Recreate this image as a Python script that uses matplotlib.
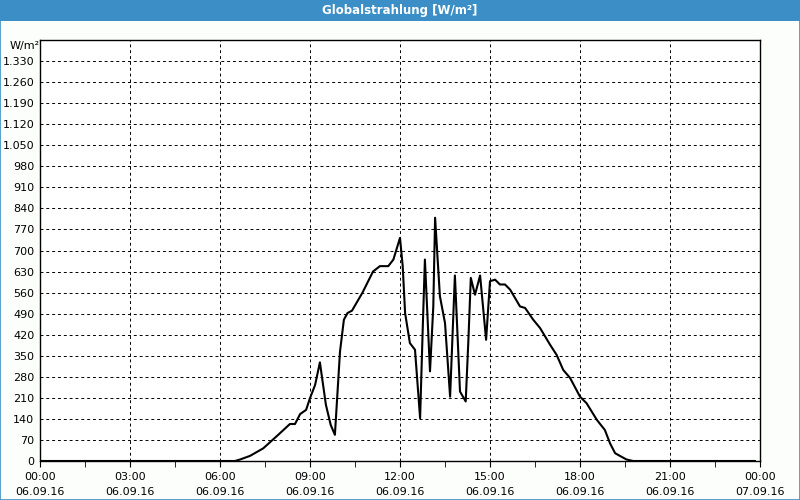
import matplotlib
matplotlib.use("Agg")
import matplotlib.pyplot as plt
from matplotlib.patches import Rectangle

# hours since 06.09.16 00:00 and global radiation in W/m²
hours = [0.0, 6.5, 6.67, 7.0, 7.44, 7.94, 8.33, 8.5, 8.67, 8.87, 9.0, 9.17, 9.33,
         9.53, 9.69, 9.83, 10.0, 10.13, 10.25, 10.4, 10.75, 11.1, 11.33, 11.61,
         11.78, 12.0, 12.09, 12.17, 12.33, 12.5, 12.67, 12.76, 12.83, 13.0, 13.11,
         13.17, 13.33, 13.5, 13.67, 13.83, 14.0, 14.19, 14.28, 14.36, 14.5, 14.67,
         14.87, 15.0, 15.17, 15.33, 15.5, 15.67, 16.0, 16.17, 16.44, 16.67, 17.0,
         17.22, 17.44, 17.67, 18.0, 18.22, 18.56, 18.83, 19.0, 19.17, 19.33, 19.55,
         19.77, 23.83]
radiation = [0, 0, 5, 17, 42, 87, 123, 123, 156, 170, 209, 253, 328,
             187, 120, 87, 364, 470, 492, 500, 560, 630, 648, 648,
             670, 742, 648, 492, 392, 370, 142, 448, 670, 298, 514,
             809, 548, 459, 214, 617, 231, 198, 403, 609, 553, 617,
             403, 598, 603, 587, 587, 570, 514, 509, 470, 442, 387,
             353, 303, 276, 214, 192, 137, 103, 59, 26, 17, 5,
             0, 0]

x_ticks = [0, 3, 6, 9, 12, 15, 18, 21, 24]
x_labels = ["00:00\n06.09.16", "03:00\n06.09.16", "06:00\n06.09.16",
            "09:00\n06.09.16", "12:00\n06.09.16", "15:00\n06.09.16",
            "18:00\n06.09.16", "21:00\n06.09.16", "00:00\n07.09.16"]
y_ticks = list(range(0, 1400, 70))

BLUE = "#3c8fc6"

fig = plt.figure(figsize=(8, 5), dpi=100)
fig.patch.set_facecolor("#fbfefb")

# title bar and thin frame around the whole picture
fig.add_artist(Rectangle((0, 0.958), 1, 0.042, transform=fig.transFigure,
                         facecolor=BLUE, edgecolor="none"))
fig.add_artist(Rectangle((0.0006, 0.001), 0.9988, 0.998, transform=fig.transFigure,
                         facecolor="none", edgecolor=BLUE, linewidth=1.2))
fig.text(0.5, 0.979, "Globalstrahlung [W/m²]", color="white", fontsize=8.5,
         fontweight="bold", ha="center", va="center")

ax = fig.add_axes([0.05, 0.078, 0.90, 0.842])
ax.set_facecolor("white")
ax.plot(hours, radiation, color="black", linewidth=1.5)

ax.set_xlim(0, 24)
ax.set_ylim(0, 1400)
ax.set_xticks(x_ticks)
ax.set_xticklabels(x_labels, fontsize=8, linespacing=1.55)
ax.set_xticks([h + 1.5 for h in x_ticks[:-1]], minor=True)
ax.set_yticks(y_ticks)
ax.set_yticklabels([f"{v:,}".replace(",", ".") for v in y_ticks], fontsize=8)

ax.tick_params(axis="x", which="both", direction="out", length=4, pad=4)
ax.tick_params(axis="y", length=0, pad=4)
ax.grid(True, which="major", color="black", linestyle=(0, (3, 3)), linewidth=0.7)

for s in ax.spines.values():
    s.set_linewidth(1.0)

fig.text(0.012, 0.908, "W/m²", fontsize=8, ha="left", va="center")

fig.savefig("out.png", dpi=100, facecolor=fig.get_facecolor())
